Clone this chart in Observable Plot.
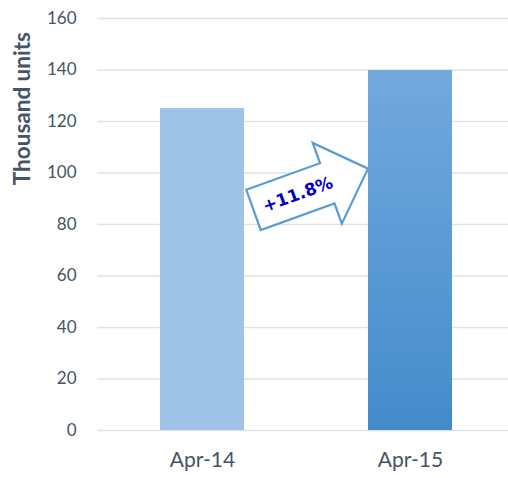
<!DOCTYPE html>
<html><head><meta charset="utf-8">
<script src="https://cdn.jsdelivr.net/npm/d3@7"></script>
<script src="https://cdn.jsdelivr.net/npm/@observablehq/plot@0.6"></script>
<style>body{margin:0;background:#fff}</style>
</head><body><div id="chart"></div>
<script>
const months = ["Apr-14", "Apr-15"];
const values = [125, 139.8];
const yTicks = [0, 20, 40, 60, 80, 100, 120, 140, 160];
const changeLabel = "+11.8%";
const axisTitle = "Thousand units";

const data = months.map((m, i) => ({month: m, value: values[i]}));

function arrowMark(index, {x, y}) {
  const g = d3.create("svg:g");
  const defs = g.append("defs");
  const grad = defs.append("linearGradient").attr("id", "barGrad")
    .attr("x1", 0).attr("y1", 0).attr("x2", 0).attr("y2", 1);
  grad.append("stop").attr("offset", "0%").attr("stop-color", "#73a9de");
  grad.append("stop").attr("offset", "100%").attr("stop-color", "#448bcb");

  const bw = x.bandwidth();
  const x0 = x(months[0]) + bw + 9.5, y0 = y(85.5);
  const x1 = x(months[1]), y1 = y(101.5);
  const dx = x1 - x0, dy = y1 - y0, L = Math.hypot(dx, dy);
  const ux = dx / L, uy = dy / L, nx = uy, ny = -ux;
  const sh = 21.4, hh = 42.9, hl = 43.3;
  const P = (t, s) => [x0 + ux * t + nx * s, y0 + uy * t + ny * s];
  const pts = [P(0, sh), P(L - hl, sh), P(L - hl, hh), P(L, 0), P(L - hl, -hh), P(L - hl, -sh), P(0, -sh)];
  g.append("polygon")
    .attr("points", pts.map(p => p.join(",")).join(" "))
    .attr("fill", "#ffffff").attr("stroke", "#5b9bd5")
    .attr("stroke-width", 2.2).attr("stroke-linejoin", "miter");
  const c = P(L * 0.385, 0);
  const ang = Math.atan2(dy, dx) * 180 / Math.PI;
  g.append("text")
    .attr("transform", `translate(${c[0]},${c[1]}) rotate(${ang})`)
    .attr("text-anchor", "middle").attr("dy", "0.36em")
    .attr("font-family", "DejaVu Sans").attr("font-weight", "bold")
    .attr("font-size", 17).attr("fill", "#0000c8")
    .text(changeLabel);
  return g.node();
}

const chart = Plot.plot({
  width: 508,
  height: 478,
  marginTop: 18,
  marginBottom: 48,
  marginLeft: 97,
  marginRight: 0,
  style: {fontFamily: "Lato", color: "#44546a", background: "#fff"},
  x: {domain: months, range: [97, 508], paddingInner: 0.595, paddingOuter: 0.283, align: 0.533},
  y: {domain: [0, 160]},
  marks: [
    Plot.ruleY(yTicks, {stroke: "#dde3ea", strokeWidth: 1.6}),
    Plot.barY(data.filter(d => d.month === months[0]), {x: "month", y: "value", fill: "#9fc3e7"}),
    Plot.barY(data.filter(d => d.month === months[1]), {x: "month", y: "value", fill: "url(#barGrad)"}),
    Plot.axisY({ticks: yTicks, tickSize: 0, tickPadding: 21, fontSize: 17, label: null}),
    Plot.axisX({tickSize: 0, tickPadding: 22, fontSize: 21, label: null}),
    Plot.text([axisTitle], {frameAnchor: "left", y: [125], text: d => d, rotate: -90, dx: -75,
      fontSize: 22.5, fontWeight: "bold", fill: "#44546a", textAnchor: "middle"}),
    arrowMark
  ]
});
document.getElementById("chart").appendChild(chart);
</script>
</body></html>
